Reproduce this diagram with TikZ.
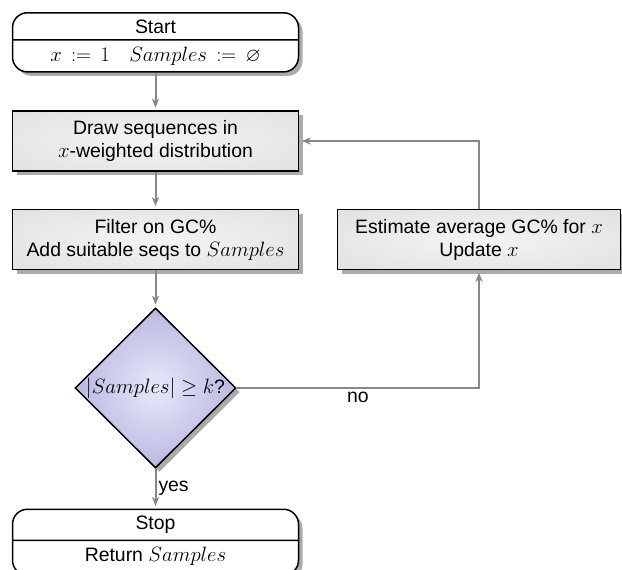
\documentclass[tikz,border=0pt]{standalone}
\usepackage{amssymb}
\usepackage{fontspec}
\setmainfont{Liberation Sans}
\usetikzlibrary{shapes.geometric,shapes.multipart,shadows,arrows.meta}

\definecolor{flowgray}{RGB}{136,136,136}
\definecolor{decouter}{RGB}{164,164,214}
\definecolor{decinner}{RGB}{232,232,250}
\definecolor{boxinner}{RGB}{244,244,244}
\definecolor{boxmid}{RGB}{228,228,228}
\definecolor{boxouter}{RGB}{216,216,216}

% soft radial fills for the process boxes and the decision diamond
\pgfdeclareradialshading{softbox}{\pgfpoint{0bp}{0bp}}{%
  color(0bp)=(boxinner); color(30bp)=(boxmid); color(50bp)=(boxouter); color(72bp)=(boxouter)}
\pgfdeclareradialshading{softdiamond}{\pgfpoint{0bp}{0bp}}{%
  color(0bp)=(decinner); color(36bp)=(decouter); color(72bp)=(decouter)}

\tikzset{
  base/.style={font=\fontsize{19.4}{23}\selectfont, line width=1.5pt},
  boxshadow/.style={drop shadow={shadow xshift=4pt, shadow yshift=-4pt, fill=black!33, opacity=1}},
  terminal/.style={base, draw, fill=white, boxshadow,
    rectangle split, rectangle split parts=2, rounded corners=15pt,
    minimum width=286pt, inner ysep=6pt},
  process/.style={base, draw, boxshadow, shading=softbox,
    minimum width=286pt, minimum height=60pt, align=center, inner sep=2pt},
  decision/.style={base, draw, boxshadow, diamond, shading=softdiamond,
    minimum width=161pt, minimum height=160pt, inner sep=0pt},
  flow/.style={draw=flowgray, line width=2pt,
    -{Stealth[length=9pt, width=7pt, inset=2.5pt]}, shorten >=2.5pt},
  flowlabel/.style={font=\fontsize{19.4}{23}\selectfont}
}

\begin{document}
\begin{tikzpicture}[x=1pt, y=1pt]
  \useasboundingbox (0,0) rectangle (622,-570);

  \node[terminal, anchor=north] (start) at (155.5,-12)
    {Start \nodepart{two} $x \,:=\, 1 \quad Samples \,:=\, \varnothing$};
  \node[process] (draw) at (155.5,-141)
    {Draw sequences in\\ $x$-weighted distribution};
  \node[process] (filter) at (155.5,-239.5)
    {Filter on GC\%\\ Add suitable seqs to $Samples$};
  \node[process, minimum width=283pt] (estimate) at (479,-239.5)
    {Estimate average GC\% for $x$\\ Update $x$};
  \node[decision] (check) at (155.5,-388)
    {\makebox[0pt]{$|Samples| \geq k$?}};
  \node[terminal, anchor=north] (stop) at (155.5,-508.5)
    {Stop \nodepart{two}\rule[-7pt]{0pt}{16pt}Return $Samples$};

  \draw[flow] (start.south) -- (draw.north);
  \draw[flow] (draw.south) -- (filter.north);
  \draw[flow] (filter.south) -- (check.north);
  \draw[flow] (check.south) -- node[flowlabel, right, inner sep=2pt] {yes} (stop.north);
  \draw[flow] (check.east) -| node[flowlabel, below, pos=0.25] {no} (estimate.south);
  \draw[flow] (estimate.north) |- (draw.east);
\end{tikzpicture}
\end{document}
